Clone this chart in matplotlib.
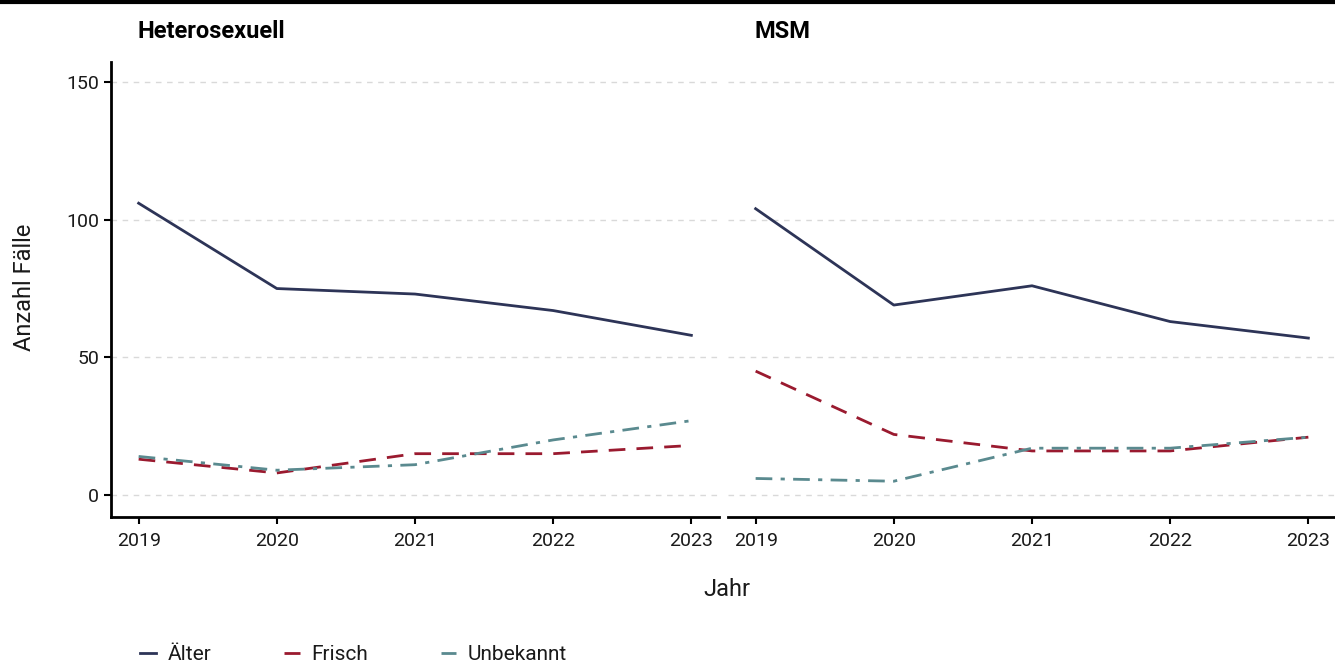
import matplotlib
matplotlib.use("Agg")
import matplotlib.pyplot as plt
from matplotlib.lines import Line2D

plt.rcParams['font.family'] = ['Roboto', 'DejaVu Sans']

years = [2019, 2020, 2021, 2022, 2023]
panels = ["Heterosexuell", "MSM"]
series = ["Älter", "Frisch", "Unbekannt"]

hetero_aelter = [106, 75, 73, 67, 58]
hetero_frisch = [13, 8, 15, 15, 18]
hetero_unbekannt = [14, 9, 11, 20, 27]

msm_aelter = [104, 69, 76, 63, 57]
msm_frisch = [45, 22, 16, 16, 21]
msm_unbekannt = [6, 5, 17, 17, 21]

data = {
    "Heterosexuell": [hetero_aelter, hetero_frisch, hetero_unbekannt],
    "MSM": [msm_aelter, msm_frisch, msm_unbekannt],
}

colors = ["#2d3457", "#9a1a2f", "#5a8a8f"]
styles = ["-", (0, (6, 4)), (0, (6, 3, 1.5, 3))]

fig = plt.figure(figsize=(13.35, 6.64), dpi=100)
W, H = 1335, 664

def box(x0, x1, y0, y1):
    return [x0 / W, 1 - y1 / H, (x1 - x0) / W, (y1 - y0) / H]

ax1 = fig.add_axes(box(111, 719, 62, 517))
ax2 = fig.add_axes(box(728, 1336, 62, 517))

for ax, name in zip([ax1, ax2], panels):
    for vals, c, ls in zip(data[name], colors, styles):
        ax.plot(years, vals, color=c, linestyle=ls, linewidth=2)
    ax.set_xlim(2018.8, 2023.2)
    ax.set_ylim(-8, 157.3)
    ax.set_yticks([0, 50, 100, 150])
    ax.set_xticks(years)
    ax.grid(axis='y', color='#d9d9d9', linestyle=(0, (4, 4)), linewidth=1)
    ax.set_axisbelow(True)
    for s in ['top', 'right']:
        ax.spines[s].set_visible(False)
    ax.spines['bottom'].set_linewidth(2)
    ax.spines['left'].set_linewidth(2)
    ax.tick_params(axis='both', labelsize=14, width=1.5, length=5, colors='black',
                   labelcolor='#1a1a1a')
    ax.tick_params(axis='x', pad=6)
    ax.text(0.043, 1.052, name, transform=ax.transAxes, fontsize=17,
            fontweight='bold', ha='left', va='baseline')

ax2.spines['left'].set_visible(False)
ax2.tick_params(axis='y', left=False, labelleft=False)

fig.text(25 / W, 1 - 287 / H, "Anzahl Fälle", rotation=90, ha='center', va='center',
         fontsize=17, color='#1a1a1a')
fig.text(727 / W, 1 - 590 / H, "Jahr", ha='center', va='center', fontsize=17,
         color='#1a1a1a')

# top border line
fig.add_artist(Line2D([0, 1], [1 - 1.5 / H, 1 - 1.5 / H], color='black', linewidth=3,
                      transform=fig.transFigure))

handles = [Line2D([], [], color=c, linestyle=ls, linewidth=2) for c, ls in zip(colors, styles)]
fig.legend(handles, series, loc='center left', bbox_to_anchor=(132 / W, 1 - 655 / H),
           ncol=3, frameon=False, fontsize=15, handlelength=0.75, handletextpad=0.55,
           columnspacing=3.5, borderaxespad=0, labelcolor='#1a1a1a')

fig.savefig("out.png", dpi=100)
